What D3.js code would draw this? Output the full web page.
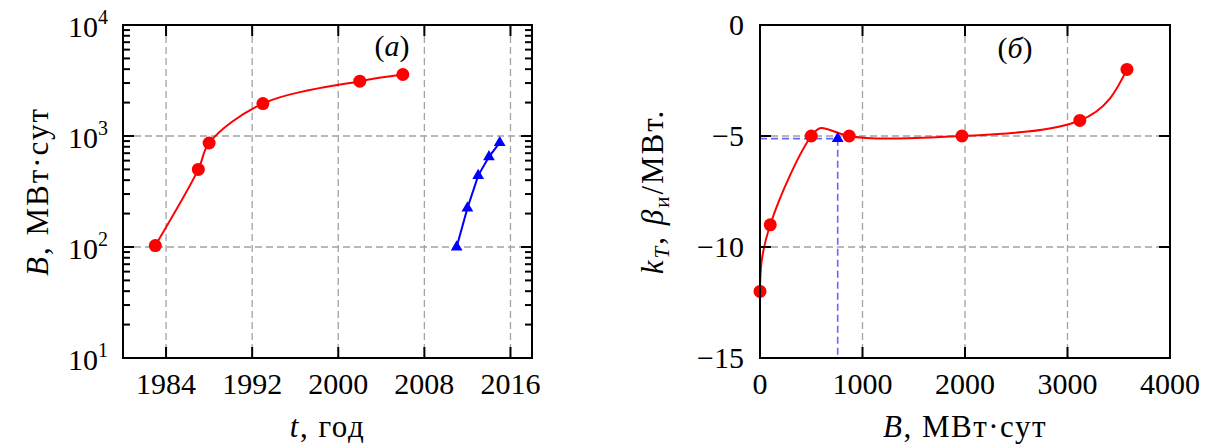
<!DOCTYPE html>
<html>
<head>
<meta charset="utf-8">
<script src="https://cdn.jsdelivr.net/npm/d3@7"></script>
<style>
  body { margin: 0; background: #fff; }
</style>
</head>
<body>
<svg width="1208" height="444"></svg>
<script>
// (a) burnup vs year
const yearsRed = [1983, 1987, 1988, 1993, 2002, 2006];
const burnRed = [103, 500, 865, 1960, 3120, 3580];
const yearsBlue = [2011, 2012, 2013, 2014, 2015];
const burnBlue = [100, 224, 440, 650, 870];
const yearTicks = [1984, 1992, 2000, 2008, 2016];
const burnTicksLog = [10, 100, 1000, 10000];

// (б) coefficient vs burnup
const burnK = [0, 100, 500, 870, 1970, 3120, 3580];
const kT = [-12, -9, -5, -5, -5, -4.3, -2];
const burnBeta = [758];
const beta = [-5.12];
const burnTicks = [0, 1000, 2000, 3000, 4000];
const kTicks = [0, -5, -10, -15];

const FONT = "'Liberation Serif', 'Times New Roman', 'DejaVu Serif', serif";
const svg = d3.select("svg").attr("font-family", FONT);
const gridColor = "#a3a3a3";

function frame(g, x, y) {
    let [x0, x1] = x.range();
    let [y1, y0] = y.range();
    g.append("rect")
        .attr("x", x0).attr("y", y0)
        .attr("width", x1 - x0).attr("height", y1 - y0)
        .attr("fill", "none")
        .attr("stroke", "#000")
        .attr("stroke-width", 2);
}

function tickMarks(g, x, y, xt, yt, len) {
    let [x0, x1] = x.range();
    let [y1, y0] = y.range();
    xt.forEach(function (t) {
        let px = x(t);
        g.append("line").attr("x1", px).attr("x2", px).attr("y1", y1).attr("y2", y1 - len);
        g.append("line").attr("x1", px).attr("x2", px).attr("y1", y0).attr("y2", y0 + len);
    });
    yt.forEach(function (t) {
        let py = y(t);
        g.append("line").attr("x1", x0).attr("x2", x0 + len).attr("y1", py).attr("y2", py);
        g.append("line").attr("x1", x1).attr("x2", x1 - len).attr("y1", py).attr("y2", py);
    });
    g.selectAll("line").attr("stroke", "#000").attr("stroke-width", 2);
}

function grid(g, x, y, xt, yt) {
    let [x0, x1] = x.range();
    let [y1, y0] = y.range();
    g.selectAll(".gx").data(xt).enter().append("line")
        .attr("x1", d => x(d)).attr("x2", d => x(d))
        .attr("y1", y0).attr("y2", y1);
    g.selectAll(".gy").data(yt).enter().append("line")
        .attr("x1", x0).attr("x2", x1)
        .attr("y1", d => y(d)).attr("y2", d => y(d));
    g.selectAll("line")
        .attr("stroke", gridColor)
        .attr("stroke-width", 1.3)
        .attr("stroke-dasharray", "7,4");
}

// ---------- panel (a) ----------
let xA = d3.scaleLinear().domain([1980, 2018]).range([123, 532]);
let yA = d3.scaleLog().domain([10, 10000]).range([358, 25]);

let gA = svg.append("g");
grid(gA.append("g"), xA, yA, yearTicks, [100, 1000]);

let lineA = d3.line()
    .x((d, i) => xA(yearsRed[i]))
    .y(d => yA(d))
    .curve(d3.curveCatmullRom.alpha(0.5));
gA.append("path")
    .attr("d", lineA(burnRed))
    .attr("fill", "none").attr("stroke", "#ff0000").attr("stroke-width", 2);

let lineBlue = d3.line()
    .x((d, i) => xA(yearsBlue[i]))
    .y(d => yA(d));
gA.append("path")
    .attr("d", lineBlue(burnBlue))
    .attr("fill", "none").attr("stroke", "#0000ff").attr("stroke-width", 2);

gA.selectAll(".dotA").data(burnRed).enter().append("circle")
    .attr("cx", (d, i) => xA(yearsRed[i]))
    .attr("cy", d => yA(d))
    .attr("r", 6.5)
    .attr("fill", "#ff0000");

let tri = d3.symbol().type(d3.symbolTriangle).size(60);
gA.selectAll(".triA").data(burnBlue).enter().append("path")
    .attr("d", tri)
    .attr("transform", (d, i) => "translate(" + xA(yearsBlue[i]) + "," + yA(d) + ")")
    .attr("fill", "#0000ff");

let minorA = [];
[10, 100, 1000].forEach(function (dec) {
    for (let k = 2; k <= 9; k++) minorA.push(dec * k);
});
let tA = gA.append("g");
tickMarks(tA, xA, yA, yearTicks, burnTicksLog, 11);
let mA = gA.append("g");
tickMarks(mA, xA, yA, [], minorA, 7);
frame(gA, xA, yA);

gA.selectAll(".xlabA").data(yearTicks).enter().append("text")
    .attr("x", d => xA(d)).attr("y", 394)
    .attr("text-anchor", "middle")
    .attr("font-size", 30)
    .text(d => d);

let ylabA = gA.selectAll(".ylabA").data(burnTicksLog).enter().append("text")
    .attr("x", 108).attr("y", d => yA(d) + 12)
    .attr("text-anchor", "end")
    .attr("font-size", 30);
ylabA.append("tspan").text("10");
ylabA.append("tspan").attr("font-size", 20).attr("dy", -13)
    .text(d => Math.round(Math.log10(d)));

let xtitleA = gA.append("text")
    .attr("x", (123 + 532) / 2).attr("y", 437)
    .attr("text-anchor", "middle").attr("font-size", 31)
    .attr("letter-spacing", 1.5);
xtitleA.append("tspan").attr("font-style", "italic").text("t");
xtitleA.append("tspan").text(", год");

let ytitleA = gA.append("text")
    .attr("transform", "translate(48," + (25 + 358) / 2 + ") rotate(-90)")
    .attr("text-anchor", "middle").attr("font-size", 31)
    .attr("letter-spacing", 2);
ytitleA.append("tspan").attr("font-style", "italic").text("B");
ytitleA.append("tspan").text(", МВт·сут");

let panelA = gA.append("text")
    .attr("x", 392).attr("y", 56)
    .attr("text-anchor", "middle").attr("font-size", 30);
panelA.append("tspan").text("(");
panelA.append("tspan").attr("font-style", "italic").text("a");
panelA.append("tspan").text(")");

// ---------- panel (б) ----------
let xB = d3.scaleLinear().domain([0, 4000]).range([760, 1170]);
let yB = d3.scaleLinear().domain([-15, 0]).range([358, 25]);

let gB = svg.append("g");
grid(gB.append("g"), xB, yB, [1000, 2000, 3000], [-5, -10]);

// blue guide lines to the measured point
let guide = gB.append("g");
guide.append("line")
    .attr("x1", xB(0)).attr("x2", xB(burnBeta[0]))
    .attr("y1", yB(beta[0])).attr("y2", yB(beta[0]));
guide.append("line")
    .attr("x1", xB(burnBeta[0])).attr("x2", xB(burnBeta[0]))
    .attr("y1", yB(beta[0])).attr("y2", yB(-15));
guide.selectAll("line")
    .attr("stroke", "#6666ff")
    .attr("stroke-width", 1.6)
    .attr("stroke-dasharray", "7,4");

let lineB = d3.line()
    .x((d, i) => xB(burnK[i]))
    .y(d => yB(d))
    .curve(d3.curveNatural);
gB.append("path")
    .attr("d", lineB(kT))
    .attr("fill", "none").attr("stroke", "#ff0000").attr("stroke-width", 2);

gB.selectAll(".dotB").data(kT).enter().append("circle")
    .attr("cx", (d, i) => xB(burnK[i]))
    .attr("cy", d => yB(d))
    .attr("r", 6.5)
    .attr("fill", "#ff0000");

gB.selectAll(".triB").data(beta).enter().append("path")
    .attr("d", tri)
    .attr("transform", (d, i) => "translate(" + xB(burnBeta[i]) + "," + yB(d) + ")")
    .attr("fill", "#0000ff");

let tB = gB.append("g");
tickMarks(tB, xB, yB, burnTicks, kTicks, 11);
frame(gB, xB, yB);

gB.selectAll(".xlabB").data(burnTicks).enter().append("text")
    .attr("x", d => xB(d)).attr("y", 394)
    .attr("text-anchor", "middle")
    .attr("font-size", 30)
    .text(d => d);

gB.selectAll(".ylabB").data(kTicks).enter().append("text")
    .attr("x", 744).attr("y", d => yB(d) + 10)
    .attr("text-anchor", "end")
    .attr("font-size", 30)
    .text(d => d < 0 ? "\u2212" + Math.abs(d) : d);

let xtitleB = gB.append("text")
    .attr("x", (760 + 1170) / 2).attr("y", 437)
    .attr("text-anchor", "middle").attr("font-size", 31)
    .attr("letter-spacing", 1.5);
xtitleB.append("tspan").attr("font-style", "italic").text("B");
xtitleB.append("tspan").text(", МВт·сут");

let ytitleB = gB.append("text")
    .attr("transform", "translate(663," + (25 + 358) / 2 + ") rotate(-90)")
    .attr("text-anchor", "middle").attr("font-size", 31)
    .attr("letter-spacing", 2);
ytitleB.append("tspan").attr("font-style", "italic").text("k");
ytitleB.append("tspan").attr("font-style", "italic").attr("font-size", 21).attr("dy", 6).text("T");
ytitleB.append("tspan").attr("dy", -6).text(",  ");
ytitleB.append("tspan").attr("font-style", "italic").text("β");
ytitleB.append("tspan").attr("font-size", 21).attr("dy", 6).text("и");
ytitleB.append("tspan").attr("dy", -6).text("/МВт.");

let panelB = gB.append("text")
    .attr("x", 1015).attr("y", 58)
    .attr("text-anchor", "middle").attr("font-size", 30);
panelB.append("tspan").text("(");
panelB.append("tspan").attr("font-style", "italic").text("б");
panelB.append("tspan").text(")");
</script>
</body>
</html>
